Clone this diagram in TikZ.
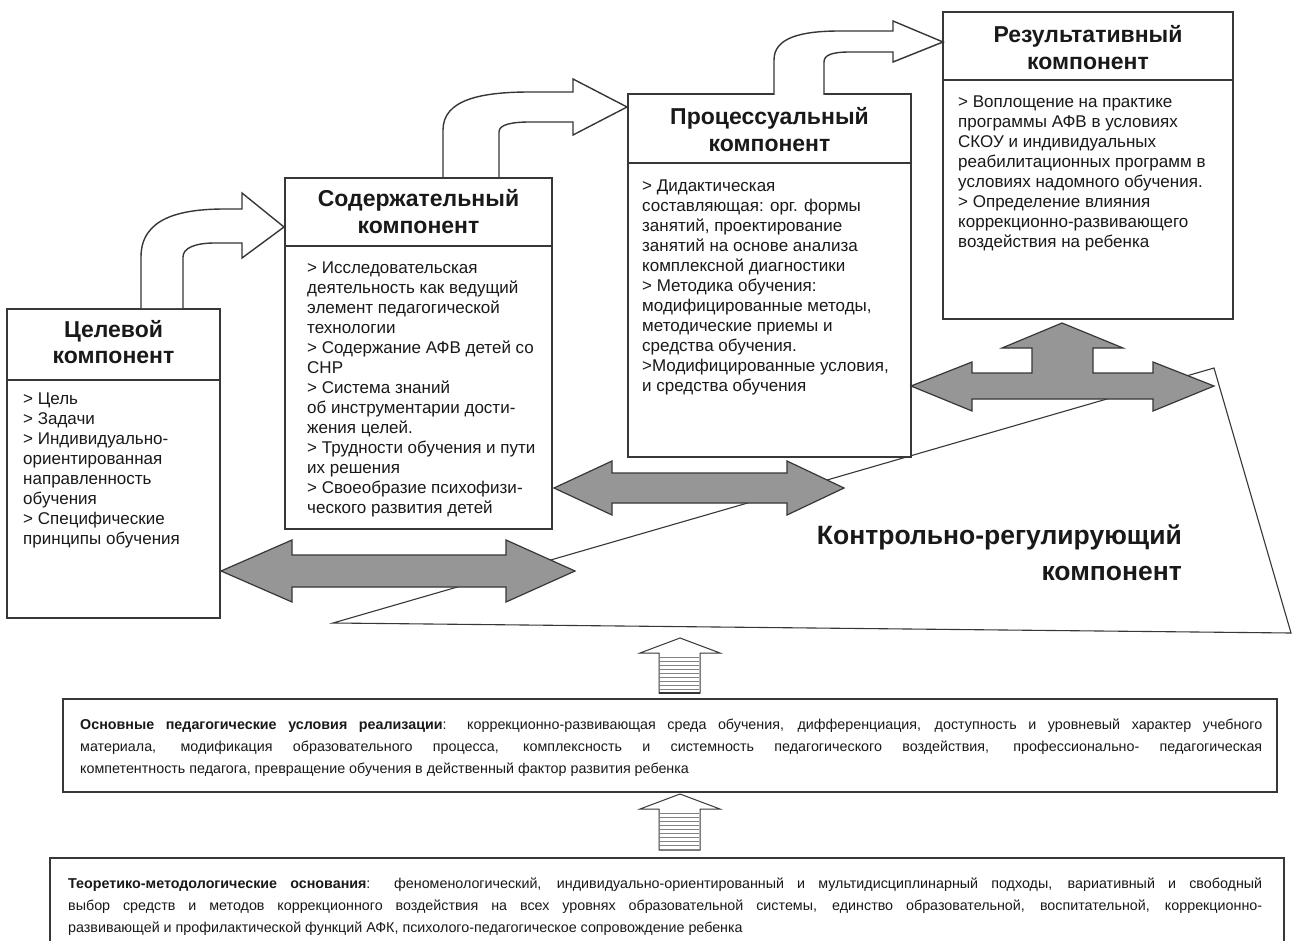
\documentclass[tikz,border=0pt]{standalone}
\usepackage{fontspec}
\setmainfont{Liberation Sans}
\definecolor{fillgray}{RGB}{150,150,150}
\definecolor{linecol}{RGB}{55,55,55}
\definecolor{txtcol}{RGB}{25,25,25}
\definecolor{stripecol}{RGB}{130,130,130}
\begin{document}
\begin{tikzpicture}[x=1pt,y=-1pt,
  compbox/.style={draw=linecol,line width=1.3pt,fill=white,rectangle,inner sep=0pt,outer sep=0pt,anchor=north west},
  divline/.style={draw=linecol,line width=1.3pt},
  titletext/.style={inner sep=0pt,anchor=base,text=txtcol,font=\fontsize{23}{26.5}\selectfont\bfseries},
  bodytext/.style={inner sep=0pt,anchor=base west,text=txtcol,font=\fontsize{17}{20}\selectfont},
  bendarrow/.style={draw=linecol,line width=1.4pt,fill=white,line join=miter},
  grayarrow/.style={draw=linecol,line width=1.2pt,fill=fillgray,line join=miter},
  uparrow/.style={draw=linecol,line width=1pt,fill=white},
  stripe/.style={draw=stripecol,line width=0.8pt},
  quadline/.style={draw=linecol,line width=1.1pt},
  widebox/.style={draw=linecol,line width=1.2pt},
  widetext/.style={inner sep=0pt,anchor=base west,text=txtcol,font=\fontsize{14.3}{22}\selectfont}
]
\useasboundingbox (0,0) rectangle (1292,941);
\fill[white] (0,0) rectangle (1292,941);

% control-regulating quadrilateral
\draw[quadline] (333,623) -- (1214,368) -- (1291,633) -- cycle;
\node[inner sep=0pt,anchor=base east,text=txtcol,font=\fontsize{26.5}{36}\selectfont\bfseries] (kontrol) at (1182,544)
  {\parbox[t]{420pt}{\raggedleft Контрольно-регулирующий\\компонент}};

% boxes
\node[compbox,minimum width=213pt,minimum height=309pt] (celbox) at (7,309) {};
\draw[divline] (7,380) -- (220,380);
\node[compbox,minimum width=267pt,minimum height=351pt] (sodbox) at (285,178) {};
\draw[divline] (285,246) -- (552,246);
\node[compbox,minimum width=283pt,minimum height=363pt] (probox) at (628,94) {};
\draw[divline] (628,163) -- (911,163);
\node[compbox,minimum width=290pt,minimum height=307pt] (resbox) at (943,12) {};
\draw[divline] (943,80) -- (1233,80);

% titles
\node[titletext] (celtitle) at (113.5,337) {\parbox[t]{210pt}{\centering Целевой\\компонент}};
\node[titletext] (sodtitle) at (418.5,207) {\parbox[t]{265pt}{\centering Содержательный\\компонент}};
\node[titletext] (protitle) at (769.5,125) {\parbox[t]{281pt}{\centering Процессуальный\\компонент}};
\node[titletext] (restitle) at (1088,43) {\parbox[t]{288pt}{\centering Результативный\\компонент}};

% bodies
\node[bodytext] (celbody) at (23,404) {\parbox[t]{195pt}{\raggedright
> Цель\\
> Задачи\\
> Индивидуально-\\
ориентированная\\
направленность\\
обучения\\
> Специфические\\
принципы обучения}};
\node[bodytext] (sodbody) at (307,273) {\parbox[t]{245pt}{\raggedright
> Исследовательская\\
деятельность как ведущий\\
элемент педагогической\\
технологии\\
> Содержание АФВ детей со\\
СНР\\
> Система знаний\\
об инструментарии дости-\\
жения целей.\\
> Трудности обучения и пути\\
их решения\\
> Своеобразие психофизи-\\
ческого развития детей}};
\node[bodytext] (probody) at (642,192) {\parbox[t]{268pt}{\raggedright
> Дидактическая\\
составляющая: орг. формы\\
занятий, проектирование\\
занятий на основе анализа\\
комплексной диагностики\\
> Методика обучения:\\
модифицированные методы,\\
методические приемы и\\
средства обучения.\\
>Модифицированные условия,\\
и средства обучения}};
\node[bodytext] (resbody) at (958,108) {\parbox[t]{272pt}{\raggedright
> Воплощение на практике\\
программы АФВ в условиях\\
СКОУ и индивидуальных\\
реабилитационных программ в\\
условиях надомного обучения.\\
> Определение влияния\\
коррекционно-развивающего\\
воздействия на ребенка}};

% bent arrows
\draw[bendarrow] (141,308) -- (141,257) .. controls (141,218) and (180,209) .. (225,209) -- (242,209)
  -- (242,193) -- (284,227) -- (242,258) -- (242,243) -- (215,243)
  .. controls (195,243) and (183,248) .. (183,257) -- (183,308);
\draw[bendarrow] (443,177) -- (443,130) .. controls (443,100) and (480,92) .. (530,92) -- (573,92)
  -- (573,79) -- (627,107) -- (573,135) -- (573,122) -- (530,122)
  .. controls (510,122) and (499,125) .. (499,132) -- (499,177);
\draw[bendarrow] (774,95) -- (774,60) .. controls (774,38) and (800,31) .. (840,31) -- (893,31)
  -- (893,21) -- (943,42) -- (893,62) -- (893,52) -- (850,52)
  .. controls (832,52) and (824,55) .. (824,62) -- (824,95);

% gray double arrows
\draw[grayarrow] (221,571) -- (292,540) -- (292,555) -- (506,555) -- (506,540) -- (575,571)
  -- (506,602) -- (506,587) -- (292,587) -- (292,602) -- cycle;
\draw[grayarrow] (554,488) -- (612,461) -- (612,473) -- (787,473) -- (787,461) -- (844,488)
  -- (787,515) -- (787,503) -- (612,503) -- (612,515) -- cycle;
\draw[grayarrow] (911,386) -- (972,362) -- (972,373) -- (1032,373) -- (1032,348) -- (1002,348)
  -- (1062,323) -- (1123,348) -- (1093,348) -- (1093,373) -- (1153,373) -- (1153,362)
  -- (1214,386) -- (1153,411) -- (1153,399) -- (972,399) -- (972,411) -- cycle;

% wide boxes
\draw[widebox] (63,699) rectangle (1277,792);
\node[widetext] (usltext) at (80,729) {\parbox[t]{1182pt}{%
\textbf{Основные педагогические условия реализации}: коррекционно-развивающая среда обучения, дифференциация, доступность и уровневый характер учебного\linebreak
материала, модификация образовательного процесса, комплексность и системность педагогического воздействия, профессионально- педагогическая\linebreak
компетентность педагога, превращение обучения в действенный фактор развития ребенка}};
\draw[widebox] (50,941) -- (50,858) -- (1284,858) -- (1284,941);
\node[widetext] (teortext) at (68,888) {\parbox[t]{1194pt}{%
\textbf{Теоретико-методологические основания}: феноменологический, индивидуально-ориентированный и мультидисциплинарный подходы, вариативный и свободный\linebreak
выбор средств и методов коррекционного воздействия на всех уровнях образовательной системы, единство образовательной, воспитательной, коррекционно-\linebreak
развивающей и профилактической функций АФК, психолого-педагогическое сопровождение ребенка}};

% striped up arrows
\draw[uparrow] (659,693) -- (659,653) -- (640,653) -- (680,638) -- (720,653) -- (700,653) -- (700,693) -- cycle;
\foreach \yy in {657,661,...,689} \draw[stripe] (660,\yy) -- (699,\yy);
\draw[draw=linecol,line width=1.6pt] (659,693) -- (700,693);
\draw[uparrow] (659,850) -- (659,809) -- (640,809) -- (680,794) -- (720,809) -- (700,809) -- (700,850) -- cycle;
\foreach \yy in {813,817,...,849} \draw[stripe] (660,\yy) -- (699,\yy);
\end{tikzpicture}
\end{document}
